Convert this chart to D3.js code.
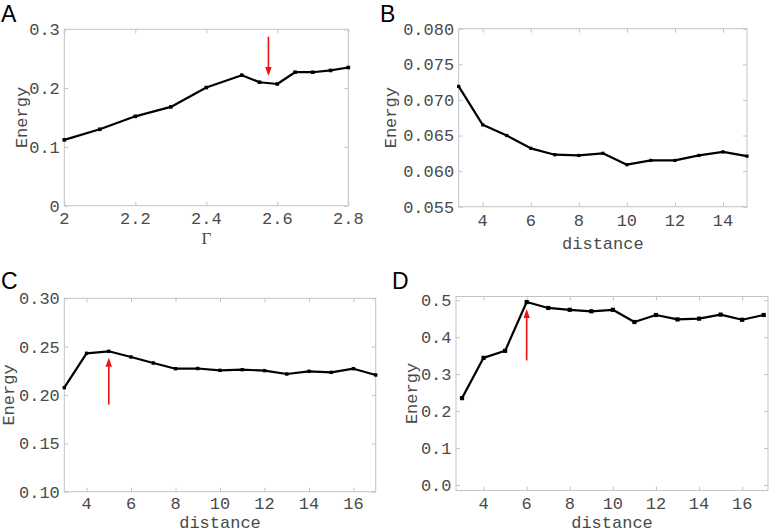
<!DOCTYPE html>
<html>
<head>
<meta charset="utf-8">
<script src="https://cdn.jsdelivr.net/npm/d3@7"></script>
<style>
  html, body { margin: 0; padding: 0; background: #fff; }
  svg { display: block; }
</style>
</head>
<body>
<svg id="chart" width="772" height="532"></svg>
<script>
// ---------------- DATA ----------------
// Panel A
const gammaA = [2.0, 2.1, 2.2, 2.3, 2.4, 2.5, 2.55, 2.6, 2.65, 2.7, 2.75, 2.8];
const energyA = [0.112, 0.130, 0.152, 0.168, 0.201, 0.222, 0.210, 0.207, 0.227, 0.227, 0.230, 0.235];
const xTicksA = [2, 2.2, 2.4, 2.6, 2.8];
const xTickLabelsA = ["2", "2.2", "2.4", "2.6", "2.8"];
const yTicksA = [0, 0.1, 0.2, 0.3];
const yTickLabelsA = ["0", "0.1", "0.2", "0.3"];
const arrowA = [2.575, 0.2875, 0.2206];   // x, tail y, tip y

// Panel B
const distanceB = [3, 4, 5, 6, 7, 8, 9, 10, 11, 12, 13, 14, 15];
const energyB = [0.0719, 0.0665, 0.0650, 0.0632, 0.0623, 0.0622, 0.0625, 0.0609, 0.0615, 0.0615, 0.0622, 0.0627, 0.0621];
const xTicksB = [4, 6, 8, 10, 12, 14];
const xTickLabelsB = ["4", "6", "8", "10", "12", "14"];
const yTicksB = [0.055, 0.060, 0.065, 0.070, 0.075, 0.080];
const yTickLabelsB = ["0.055", "0.060", "0.065", "0.070", "0.075", "0.080"];

// Panel C
const distanceC = [3, 4, 5, 6, 7, 8, 9, 10, 11, 12, 13, 14, 15, 16, 17];
const energyC = [0.2076, 0.2431, 0.2452, 0.2393, 0.2331, 0.2272, 0.2274, 0.2255, 0.2262, 0.2252, 0.2217, 0.2245, 0.2234, 0.2272, 0.2207];
const xTicksC = [4, 6, 8, 10, 12, 14, 16];
const xTickLabelsC = ["4", "6", "8", "10", "12", "14", "16"];
const yTicksC = [0.10, 0.15, 0.20, 0.25, 0.30];
const yTickLabelsC = ["0.10", "0.15", "0.20", "0.25", "0.30"];
const arrowC = [5, 0.190, 0.2386];

// Panel D
const distanceD = [3, 4, 5, 6, 7, 8, 9, 10, 11, 12, 13, 14, 15, 16, 17];
const energyD = [0.235, 0.344, 0.363, 0.495, 0.479, 0.474, 0.470, 0.474, 0.441, 0.460, 0.448, 0.450, 0.461, 0.447, 0.460];
const xTicksD = [4, 6, 8, 10, 12, 14, 16];
const xTickLabelsD = ["4", "6", "8", "10", "12", "14", "16"];
const yTicksD = [0.0, 0.1, 0.2, 0.3, 0.4, 0.5];
const yTickLabelsD = ["0.0", "0.1", "0.2", "0.3", "0.4", "0.5"];
const arrowD = [6, 0.337, 0.476];

// ---------------- DRAWING ----------------
const svg = d3.select("#chart");
const MONO = "'Liberation Mono', 'Courier New', 'DejaVu Sans Mono', monospace";
const TEXT_COL = "#4a4a4a";
const FRAME_COL = "#c4c4c4";

function drawPanel(cfg) {
  const g = svg.append("g");
  const x = d3.scaleLinear().domain(cfg.xDomain).range([cfg.left, cfg.right]);
  const y = d3.scaleLinear().domain(cfg.yDomain).range([cfg.bottom, cfg.top]);

  // frame
  g.append("rect")
    .attr("x", cfg.left).attr("y", cfg.top)
    .attr("width", cfg.right - cfg.left).attr("height", cfg.bottom - cfg.top)
    .attr("fill", "none").attr("stroke", FRAME_COL).attr("stroke-width", 1);

  // faint inward ticks built with d3 axes
  const xAxisB = d3.axisBottom(x).tickValues(cfg.xTicks).tickSize(-4).tickFormat("");
  const xAxisT = d3.axisTop(x).tickValues(cfg.xTicks).tickSize(-4).tickFormat("");
  const yAxisL = d3.axisLeft(y).tickValues(cfg.yTicks).tickSize(-4).tickFormat("");
  const yAxisR = d3.axisRight(y).tickValues(cfg.yTicks).tickSize(-4).tickFormat("");
  [[xAxisB, `translate(0,${cfg.bottom})`], [xAxisT, `translate(0,${cfg.top})`],
   [yAxisL, `translate(${cfg.left},0)`], [yAxisR, `translate(${cfg.right},0)`]].forEach(([ax, tr]) => {
    const a = g.append("g").attr("transform", tr).call(ax);
    a.select(".domain").remove();
    a.selectAll("line").attr("stroke", FRAME_COL);
  });

  // tick labels
  g.append("g").selectAll("text").data(cfg.xTicks).join("text")
    .attr("x", d => x(d)).attr("y", cfg.bottom + cfg.xLabOff)
    .attr("text-anchor", "middle")
    .attr("font-family", MONO).attr("font-size", cfg.fs).attr("fill", TEXT_COL)
    .text((d, i) => cfg.xTickLabels[i]);
  g.append("g").selectAll("text").data(cfg.yTicks).join("text")
    .attr("x", cfg.left - cfg.yLabGap).attr("y", d => y(d)).attr("dy", "0.35em")
    .attr("text-anchor", "end")
    .attr("font-family", MONO).attr("font-size", cfg.fs).attr("fill", TEXT_COL)
    .text((d, i) => cfg.yTickLabels[i]);

  // axis titles
  g.append("text")
    .attr("x", (cfg.left + cfg.right) / 2).attr("y", cfg.bottom + cfg.xTitleOff)
    .attr("text-anchor", "middle").attr("dy", "0.35em")
    .attr("font-family", cfg.xTitleFont || MONO).attr("font-size", cfg.fs).attr("fill", TEXT_COL)
    .text(cfg.xTitle);
  const yc = (cfg.top + cfg.bottom) / 2, xc = cfg.left - cfg.yTitleOff;
  g.append("text")
    .attr("transform", `translate(${xc},${yc}) rotate(-90)`)
    .attr("text-anchor", "middle").attr("dy", "0.35em")
    .attr("font-family", MONO).attr("font-size", cfg.fs).attr("fill", TEXT_COL)
    .text("Energy");

  // data line
  const pts = cfg.xs.map((v, i) => [v, cfg.ys[i]]);
  g.append("path").datum(pts)
    .attr("d", d3.line().x(d => x(d[0])).y(d => y(d[1])))
    .attr("fill", "none").attr("stroke", "#000").attr("stroke-width", 2.2)
    .attr("stroke-linejoin", "round");
  g.append("g").selectAll("rect").data(pts).join("rect")
    .attr("x", d => x(d[0]) - cfg.ms / 2).attr("y", d => y(d[1]) - cfg.ms / 2)
    .attr("width", cfg.ms).attr("height", cfg.ms).attr("fill", "#000");

  // red arrow
  if (cfg.arrow) {
    const [ax, yTail, yTip] = cfg.arrow;
    const px = x(ax), pTail = y(yTail), pTip = y(yTip);
    const dir = pTip > pTail ? 1 : -1;
    const headLen = 9, headW = 3.2;
    g.append("line")
      .attr("x1", px).attr("x2", px)
      .attr("y1", pTail).attr("y2", pTip - dir * headLen)
      .attr("stroke", "#ee1111").attr("stroke-width", 1.6);
    g.append("path")
      .attr("d", `M${px},${pTip} L${px - headW},${pTip - dir * headLen} L${px + headW},${pTip - dir * headLen} Z`)
      .attr("fill", "#ee1111");
  }

  // panel letter
  svg.append("text")
    .attr("x", cfg.letterX).attr("y", cfg.letterY)
    .attr("font-family", "'Liberation Sans', Arial, sans-serif").attr("font-size", 23)
    .attr("fill", "#000").text(cfg.letter);
}

drawPanel({
  letter: "A", letterX: 1, letterY: 22,
  left: 64.3, right: 348.3, top: 29.3, bottom: 205.7,
  xDomain: [2, 2.8], yDomain: [0, 0.3],
  xs: gammaA, ys: energyA,
  xTicks: xTicksA, xTickLabels: xTickLabelsA, yTicks: yTicksA, yTickLabels: yTickLabelsA,
  fs: 17, xLabOff: 18.5, yLabGap: 4.5, xTitleOff: 32.5, yTitleOff: 43.3,
  xTitle: "Γ", xTitleFont: "'Liberation Serif', 'Times New Roman', serif",
  ms: 3.6, arrow: arrowA
});
drawPanel({
  letter: "B", letterX: 380, letterY: 22,
  left: 458.7, right: 747, top: 28.7, bottom: 206.7,
  xDomain: [3, 15], yDomain: [0.055, 0.080],
  xs: distanceB, ys: energyB,
  xTicks: xTicksB, xTickLabels: xTickLabelsB, yTicks: yTicksB, yTickLabels: yTickLabelsB,
  fs: 17, xLabOff: 19.3, yLabGap: 4.5, xTitleOff: 36.6, yTitleOff: 68.7,
  xTitle: "distance",
  ms: 3.2
});
drawPanel({
  letter: "C", letterX: 1, letterY: 289,
  left: 64.3, right: 375.7, top: 298.3, bottom: 491.7,
  xDomain: [3, 17], yDomain: [0.10, 0.30],
  xs: distanceC, ys: energyC,
  xTicks: xTicksC, xTickLabels: xTickLabelsC, yTicks: yTicksC, yTickLabels: yTickLabelsC,
  fs: 17, xLabOff: 17.6, yLabGap: 4.5, xTitleOff: 30.5, yTitleOff: 56,
  xTitle: "distance",
  ms: 3.4, arrow: arrowC
});
drawPanel({
  letter: "D", letterX: 392, letterY: 289,
  left: 456, right: 768, top: 296.5, bottom: 490.5,
  xDomain: [2.72, 17.2], yDomain: [-0.015, 0.51],
  xs: distanceD, ys: energyD,
  xTicks: xTicksD, xTickLabels: xTickLabelsD, yTicks: yTicksD, yTickLabels: yTickLabelsD,
  fs: 17, xLabOff: 18.2, yLabGap: 4.5, xTitleOff: 31.7, yTitleOff: 45,
  xTitle: "distance",
  ms: 4.2, arrow: arrowD
});
</script>
</body>
</html>
